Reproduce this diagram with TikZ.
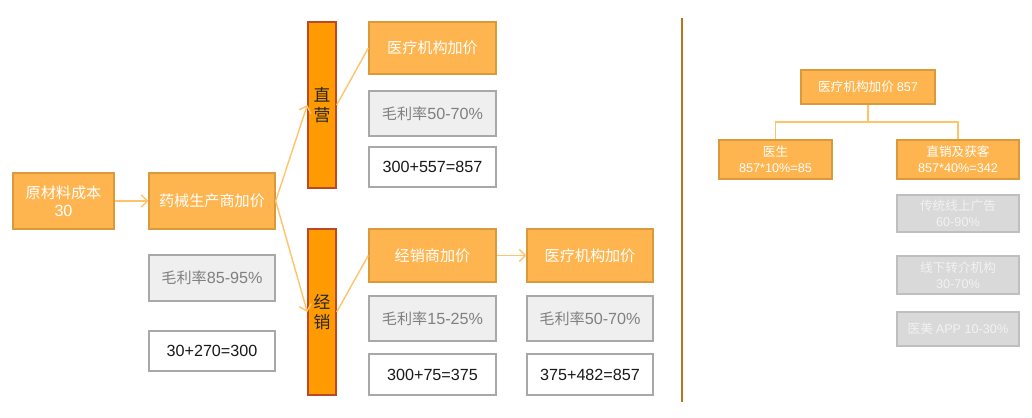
\documentclass[tikz,border=0pt]{standalone}
\usepackage{fontspec}
\usepackage{xcolor}
\setmainfont{Noto Sans CJK SC}
\newfontfamily\latin{Liberation Sans}
\usetikzlibrary{
    calc,
    arrows.meta
}
\definecolor{boxorange}{HTML}{FFB54F}
\definecolor{boxedge}{HTML}{D99A3C}
\definecolor{barfill}{HTML}{FF9A00}
\definecolor{baredge}{HTML}{B84A28}
\definecolor{linkcol}{HTML}{FFC36B}
\definecolor{greyfill}{HTML}{EFEFEF}
\definecolor{greyedge}{HTML}{A8A8A8}
\definecolor{greytext}{HTML}{808080}
\definecolor{palefill}{HTML}{D9D9D9}
\definecolor{paleedge}{HTML}{BFBFBF}
\definecolor{dividercol}{HTML}{B8741A}
\tikzset{
    >={Straight Barb[length=3.5pt,width=7pt]},
    every node/.style={inner sep=0pt, align=center},
    orangebox/.style={fill=boxorange, draw=boxedge, line width=0.8pt, text=white,
        font=\fontsize{8.6}{10.5}\selectfont},
    barbox/.style={fill=barfill, draw=baredge, line width=0.8pt, text=black!85,
        minimum width=0.56cm, minimum height=3.32cm, font=\fontsize{9.6}{11}\selectfont},
    greybox/.style={fill=greyfill, draw=greyedge, line width=0.8pt, text=greytext,
        font=\fontsize{8.6}{10.5}\selectfont},
    calcbox/.style={fill=white, draw=greyedge, line width=0.8pt, text=black!90,
        font=\fontsize{9.2}{10.5}\selectfont\latin},
    smallbox/.style={fill=boxorange, draw=boxedge, line width=0.8pt, text=white,
        font=\fontsize{7.2}{9}\selectfont},
    palebox/.style={fill=palefill, draw=paleedge, line width=0.8pt, text=white!95!black,
        font=\fontsize{7.2}{9}\selectfont, minimum width=2.44cm},
    link/.style={draw=linkcol, line width=0.8pt},
}

\begin{document}
\begin{tikzpicture}[x=0.02cm, y=-0.02cm]
        \useasboundingbox (0,0) rectangle (1032,418);

        % left part: maker
        \draw (63.5,201) node[orangebox, minimum width=2.02cm, minimum height=1.12cm](raw){原材料成本\\{\latin\fontsize{9.2}{10}\selectfont 30}};
        \draw (212,201) node[orangebox, minimum width=2.52cm, minimum height=1.12cm](maker){药械生产商加价};
        \draw (212,278) node[greybox, minimum width=2.52cm, minimum height=0.92cm](makermargin){毛利率{\latin\fontsize{9.2}{10}\selectfont 85-95\%}};
        \draw (212,351) node[calcbox, minimum width=2.52cm, minimum height=0.8cm](makercalc){30+270=300};

        \draw (322,105) node[barbox](direct){直\\营};
        \draw (322,312) node[barbox](dist){经\\销};

        % direct sale
        \draw (432.5,48) node[orangebox, minimum width=2.54cm, minimum height=1.04cm](hospa){医疗机构加价};
        \draw (432.5,113.5) node[greybox, minimum width=2.54cm, minimum height=0.9cm](hospamargin){毛利率{\latin\fontsize{9.2}{10}\selectfont 50-70\%}};
        \draw (432.5,167) node[calcbox, minimum width=2.54cm, minimum height=0.8cm](hospacalc){300+557=857};

        % distribution
        \draw (432.5,255.5) node[orangebox, minimum width=2.54cm, minimum height=1.06cm](dealer){经销商加价};
        \draw (432.5,318.5) node[greybox, minimum width=2.54cm, minimum height=0.9cm](dealermargin){毛利率{\latin\fontsize{9.2}{10}\selectfont 15-25\%}};
        \draw (432.5,374.5) node[calcbox, minimum width=2.54cm, minimum height=0.82cm](dealercalc){300+75=375};
        \draw (590,255.5) node[orangebox, minimum width=2.52cm, minimum height=1.06cm](hospb){医疗机构加价};
        \draw (590,318.5) node[greybox, minimum width=2.52cm, minimum height=0.9cm](hospbmargin){毛利率{\latin\fontsize{9.2}{10}\selectfont 50-70\%}};
        \draw (590,374.5) node[calcbox, minimum width=2.52cm, minimum height=0.82cm](hospbcalc){375+482=857};

        \draw[link,->] (raw) to (maker);
        \draw[link,->] (maker.east) to (direct.west);
        \draw[link,->] (maker.east) to (dist.west);
        \draw[link] (direct.east) to (hospa.west);
        \draw[link] (dist.east) to (dealer.west);
        \draw[link,->] (dealer) to (hospb);

        % divider
        \coordinate (divtop) at (682,18);
        \coordinate (divbot) at (682,402);
        \draw[draw=dividercol, line width=1.2pt] (divtop) to (divbot);

        % right part: split of the hospital price
        \draw (868,87) node[smallbox, minimum width=2.68cm, minimum height=0.68cm](total){医疗机构加价 {\latin 857}};
        \draw (775.5,159.5) node[smallbox, minimum width=2.26cm, minimum height=0.78cm](doctor){医生\\{\latin 857*10\%=85}};
        \draw (958,159.5) node[smallbox, minimum width=2.44cm, minimum height=0.78cm](sales){直销及获客\\{\latin 857*40\%=342}};
        \draw (958,213.5) node[palebox, minimum height=0.74cm](ads){传统线上广告\\{\latin 60-90\%}};
        \draw (958,275) node[palebox, minimum height=0.76cm](referral){线下转介机构\\{\latin 30-70\%}};
        \draw (958,329) node[palebox, minimum height=0.68cm](app){医美 {\latin APP 10-30\%}};

        \coordinate (split) at (868,122);
        \draw[link] (total.south) -- (split) -| (doctor.north);
        \draw[link] (split) -| (sales.north);
    \end{tikzpicture}
\end{document}
